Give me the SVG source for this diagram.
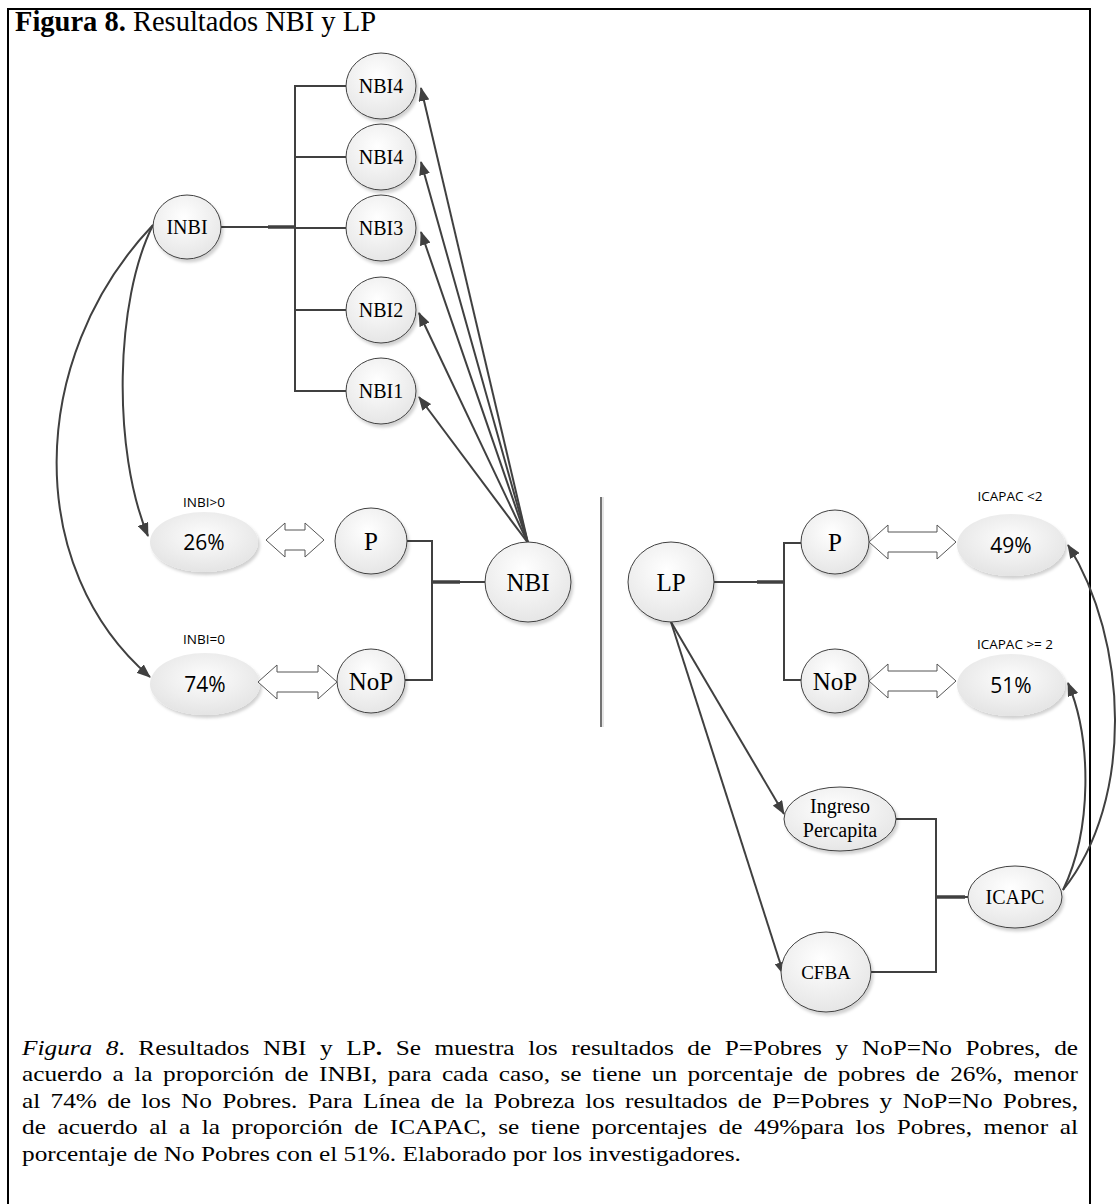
<svg xmlns="http://www.w3.org/2000/svg" width="1119" height="1204" viewBox="0 0 1119 1204">
<defs>
<radialGradient id="gNode" cx="45%" cy="35%" r="70%">
<stop offset="0" stop-color="#ffffff"/>
<stop offset="1" stop-color="#e4e4e4"/>
</radialGradient>
<radialGradient id="gPct" cx="50%" cy="40%" r="65%">
<stop offset="0" stop-color="#fdfdfd"/>
<stop offset="1" stop-color="#e2e2e2"/>
</radialGradient>
<filter id="sh" x="-20%" y="-20%" width="150%" height="150%">
<feDropShadow dx="2" dy="3" stdDeviation="1.5" flood-color="#000" flood-opacity="0.18"/>
</filter>
<marker id="ah" viewBox="0 0 14 11" refX="13" refY="5.5" markerWidth="14" markerHeight="11" markerUnits="userSpaceOnUse" orient="auto">
<path d="M0,0 L14,5.5 L0,11 z" fill="#404040"/>
</marker>
</defs>
<style>
.node{fill:url(#gNode);stroke:#404040;stroke-width:1;filter:url(#sh)}
.pct{fill:url(#gPct);stroke:none;filter:url(#sh)}
.t{font-family:"Liberation Serif","Times New Roman",serif;fill:#000;text-anchor:middle}
.s{font-family:"Open Sans","Liberation Sans",sans-serif;fill:#000}
.c{fill:none;stroke:#404040;stroke-width:2}
.k{fill:none;stroke:#404040;stroke-width:3.5}
.a{fill:none;stroke:#404040;stroke-width:2;marker-end:url(#ah)}
.dbl{fill:#fff;stroke:#555;stroke-width:1}
.cap{font-family:"Liberation Serif","Times New Roman",serif;font-size:22px;fill:#000}
</style>
<rect x="0" y="0" width="1119" height="1204" fill="#fff"/>
<rect x="8" y="9" width="1082" height="1215" fill="none" stroke="#000" stroke-width="2"/>
<text x="15" y="31" font-family="Liberation Serif,Times New Roman,serif" font-size="28.5" fill="#000"><tspan font-weight="bold">Figura 8.</tspan> Resultados NBI y LP</text>

<g id="connectors">
<polyline class="c" points="221,227 295,227"/>
<line class="k" x1="268" y1="227" x2="295" y2="227"/>
<polyline class="c" points="346,86 295,86 295,391 346,391"/>
<line class="c" x1="295" y1="157" x2="346" y2="157"/>
<line class="c" x1="295" y1="228" x2="346" y2="228"/>
<line class="c" x1="295" y1="310" x2="346" y2="310"/>
<polyline class="c" points="407,541 432,541 432,680 405,680"/>
<line class="c" x1="432" y1="582" x2="485" y2="582"/>
<line class="k" x1="432" y1="582" x2="460" y2="582"/>
<line class="a" x1="528" y1="543" x2="421" y2="88"/>
<line class="a" x1="528" y1="543" x2="421" y2="162"/>
<line class="a" x1="528" y1="543" x2="421" y2="232"/>
<line class="a" x1="528" y1="543" x2="419" y2="313"/>
<line class="a" x1="528" y1="543" x2="419" y2="397"/>
<path class="a" d="M153,225 C115,300 112,450 148,536"/>
<path class="a" d="M153,225 C25,360 25,570 150,677"/>
<line x1="601" y1="497" x2="601" y2="727" stroke="#444" stroke-width="1.5"/>
<line x1="603" y1="497" x2="603" y2="727" stroke="#ddd" stroke-width="1.5"/>
<line class="c" x1="714" y1="582" x2="784" y2="582"/>
<line class="k" x1="757" y1="582" x2="784" y2="582"/>
<polyline class="c" points="801,543 784,543 784,680 801,680"/>
<line class="a" x1="671" y1="622" x2="784" y2="814"/>
<line class="a" x1="671" y1="622" x2="784" y2="975"/>
<polyline class="c" points="896,819 936,819 936,972 871,972"/>
<line class="c" x1="936" y1="897" x2="968" y2="897"/>
<line class="k" x1="936" y1="897" x2="965" y2="897"/>
<path class="a" d="M1063,890 C1092,830 1092,740 1068,683"/>
<path class="a" d="M1063,890 C1135,800 1128,640 1068,545"/>
</g>

<g id="n-inbi"><ellipse class="node" cx="187" cy="227" rx="34" ry="32"/><text class="t" x="187" y="234" font-size="20">INBI</text></g>
<g id="n-nbi4a"><ellipse class="node" cx="381" cy="86" rx="35" ry="33"/><text class="t" x="381" y="93" font-size="20">NBI4</text></g>
<g id="n-nbi4b"><ellipse class="node" cx="381" cy="157" rx="35" ry="33"/><text class="t" x="381" y="164" font-size="20">NBI4</text></g>
<g id="n-nbi3"><ellipse class="node" cx="381" cy="228" rx="35" ry="33"/><text class="t" x="381" y="235" font-size="20">NBI3</text></g>
<g id="n-nbi2"><ellipse class="node" cx="381" cy="310" rx="35" ry="33"/><text class="t" x="381" y="317" font-size="20">NBI2</text></g>
<g id="n-nbi1"><ellipse class="node" cx="381" cy="391" rx="35" ry="33"/><text class="t" x="381" y="398" font-size="20">NBI1</text></g>
<g id="n-nbi"><ellipse class="node" cx="528" cy="582" rx="43" ry="40"/><text class="t" x="528" y="591" font-size="25">NBI</text></g>
<g id="n-p-left"><ellipse class="node" cx="371" cy="541" rx="36" ry="33"/><text class="t" x="371" y="550" font-size="25">P</text></g>
<g id="n-nop-left"><ellipse class="node" cx="371" cy="681" rx="34" ry="32"/><text class="t" x="371" y="690" font-size="25">NoP</text></g>
<g id="n-26"><ellipse class="pct" cx="204" cy="542" rx="54" ry="30"/><text class="s" x="204" y="507" font-size="13.5" text-anchor="middle">INBI&gt;0</text><text class="s" x="204" y="550" font-size="21" text-anchor="middle">26%</text></g>
<g id="n-74"><ellipse class="pct" cx="205" cy="684" rx="55" ry="31"/><text class="s" x="204" y="644" font-size="13.5" text-anchor="middle">INBI=0</text><text class="s" x="205" y="692" font-size="21" text-anchor="middle">74%</text></g>
<g id="d-p-left"><polygon class="dbl" points="266,540 285,523 285,530 305,530 305,523 324,540 305,557 305,550 285,550 285,557"/></g>
<g id="d-nop-left"><polygon class="dbl" points="258,682 277,665 277,672 318,672 318,665 337,682 318,699 318,692 277,692 277,699"/></g>

<g id="n-lp"><ellipse class="node" cx="671" cy="582" rx="43" ry="40"/><text class="t" x="671" y="591" font-size="25">LP</text></g>
<g id="n-p-right"><ellipse class="node" cx="835" cy="542" rx="34" ry="32"/><text class="t" x="835" y="551" font-size="25">P</text></g>
<g id="n-nop-right"><ellipse class="node" cx="835" cy="681" rx="34" ry="32"/><text class="t" x="835" y="690" font-size="25">NoP</text></g>
<g id="n-49"><ellipse class="pct" cx="1011" cy="545" rx="54" ry="31"/><text class="s" x="1010" y="501" font-size="13.5" text-anchor="middle">ICAPAC &lt;2</text><text class="s" x="1011" y="553" font-size="21" text-anchor="middle">49%</text></g>
<g id="n-51"><ellipse class="pct" cx="1011" cy="685" rx="54" ry="31"/><text class="s" x="1015" y="649" font-size="13.5" text-anchor="middle">ICAPAC &gt;= 2</text><text class="s" x="1011" y="693" font-size="21" text-anchor="middle">51%</text></g>
<g id="d-p-right"><polygon class="dbl" points="869,542 888,525 888,532 937,532 937,525 956,542 937,559 937,552 888,552 888,559"/></g>
<g id="d-nop-right"><polygon class="dbl" points="869,681 888,664 888,671 937,671 937,664 956,681 937,698 937,691 888,691 888,698"/></g>
<g id="n-ingreso"><ellipse class="node" cx="840" cy="819" rx="56" ry="32"/><text class="t" x="840" y="813" font-size="20">Ingreso</text><text class="t" x="840" y="837" font-size="20">Percapita</text></g>
<g id="n-icapc"><ellipse class="node" cx="1015" cy="897" rx="47" ry="31"/><text class="t" x="1015" y="904" font-size="20">ICAPC</text></g>
<g id="n-cfba"><ellipse class="node" cx="826" cy="972" rx="45" ry="40"/><text class="t" x="826" y="979" font-size="19">CFBA</text></g>

<g id="caption" transform="scale(1.15,1)">
<text class="cap" x="19.13" y="1055" word-spacing="6.3" textLength="918.3" lengthAdjust="spacing"><tspan font-style="italic">Figura 8</tspan>. Resultados NBI y LP<tspan font-weight="bold">.</tspan> Se muestra los resultados de P=Pobres y NoP=No Pobres, de</text>
<text class="cap" x="19.13" y="1081" word-spacing="3.6" textLength="918.3" lengthAdjust="spacing">acuerdo a la proporción de INBI, para cada caso, se tiene un porcentaje de pobres de 26%, menor</text>
<text class="cap" x="19.13" y="1108" word-spacing="3.4" textLength="918.3" lengthAdjust="spacing">al 74% de los No Pobres. Para Línea de la Pobreza los resultados de P=Pobres y NoP=No Pobres,</text>
<text class="cap" x="19.13" y="1134" word-spacing="4.5" textLength="918.3" lengthAdjust="spacing">de acuerdo al a la proporción de ICAPAC, se tiene porcentajes de 49%para los Pobres, menor al</text>
<text class="cap" x="19.13" y="1161">porcentaje de No Pobres con el 51%. Elaborado por los investigadores.</text>
</g>
</svg>
